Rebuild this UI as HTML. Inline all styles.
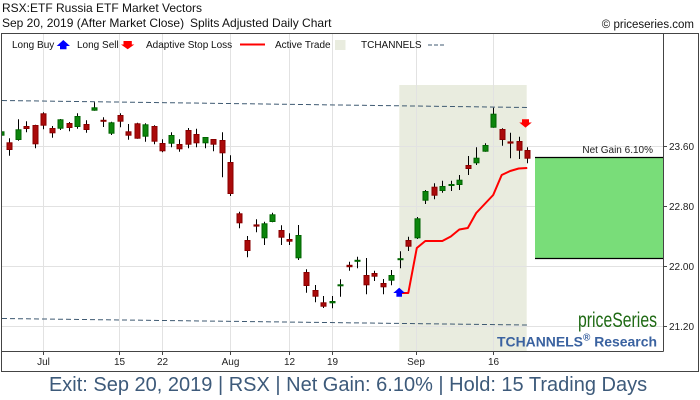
<!DOCTYPE html>
<html>
<head>
<meta charset="utf-8">
<style>
html,body{margin:0;padding:0;background:#fff;}
svg{display:block;}
text{font-family:"Liberation Sans",Arial,sans-serif;}
</style>
</head>
<body>
<svg width="700" height="400" viewBox="0 0 700 400" xmlns="http://www.w3.org/2000/svg">
<rect x="0" y="0" width="700" height="400" fill="#fff"/>

<!-- header -->
<text x="2" y="12" font-size="12" fill="#111">RSX:ETF Russia ETF Market Vectors</text>
<text x="2" y="27" font-size="12" fill="#111">Sep 20, 2019 (After Market Close)</text>
<text x="190" y="27" font-size="12" fill="#111">Splits Adjusted Daily Chart</text>
<text x="694" y="28" font-size="11.5" fill="#111" text-anchor="end">© priceseries.com</text>

<defs>
<clipPath id="plot"><rect x="2" y="34" width="661" height="317"/></clipPath>
</defs>

<!-- active trade shading -->
<rect x="399.3" y="85" width="127.4" height="266" fill="#e9ecdf"/>

<!-- gridlines -->
<g stroke="#e2e2e2" stroke-width="1">
<path d="M2 146.5H663M2 206.5H663M2 266.5H663M2 326.5H663"/>
<path d="M43.5 34V351M119.5 34V351M162.5 34V351M230.5 34V351M289.5 34V351M332.5 34V351M416.5 34V351M493.5 34V351"/>
</g>

<!-- net gain box -->
<rect x="535" y="157.5" width="128" height="101" fill="#79dd79"/>
<path d="M535 157.5H663M535 258.5H663" stroke="#000" stroke-width="1.2"/>
<text x="653" y="153" font-size="10" fill="#222" text-anchor="end">Net Gain 6.10%</text>

<!-- channel lines -->
<g stroke="#3f5a72" stroke-width="1" stroke-dasharray="5,3" fill="none">
<line x1="2" y1="100.5" x2="527" y2="107.5"/>
<line x1="2" y1="318.5" x2="527" y2="325"/>
</g>

<g clip-path="url(#plot)">
<!-- wicks -->
<path stroke="#000" stroke-width="1" fill="none" d="
M1.5 131.3V135.7M9.5 138.3V155.7M18.5 119.3V140.7M26.5 121.3V132.3M35.5 124.7V148.3M43.5 112.3V129.3M52.5 126V137.7M60.5 119V130M69.5 122V131.3M77.5 113.3V128.7
M86.5 120.3V132.7M94.5 102.3V110.7M103.5 117.3V127M111.5 121.7V135M120.5 113.3V127.3M128.5 124V139.7M137.5 122.7V138.7M145.5 123.3V141.7M154.5 125.3V144.3M162.5 139.3V152.3
M171.5 132.3V147.3M179.5 139.3V151.7M188.5 128V148.3M196.5 128.7V147.3M205.5 137V148.3M213.5 139V151.3M222.5 132.3V177.3M230.5 155.3V196M239.5 211.7V228.3M247.5 236V257.3
M256.5 219.3V232.3M264.5 221.7V245M272.5 212.7V222.3M281.5 225.3V245M289.5 233.3V245M298.5 225V260M306.5 269.3V292.7M315.5 285V302.3M323.5 296V308M332.5 296V308.3
M340.5 279.3V296.7M349.5 261.7V270.7M357.5 256.7V268.3M366.5 258V294.3M374.5 270.7V281M383.5 279V294.3M391.5 270V285.3M400.5 251.3V268.3M408.5 236.7V251M417.5 217V239
M425.5 190V204M434.5 183.3V199.3M442.5 180.7V192.7M451.5 180.7V191M459.5 175V190M468.5 156V175M476.5 147.3V165M485.5 143.3V151.7M493.5 107.7V127.7M502.5 128.3V145.7
M510.5 132.7V158.3M519.5 136.7V159M527.5 147.3V163.3"/>

<!-- red bodies -->
<g fill="#aa0a0a" stroke="#8a0000" stroke-width="1">
<rect x="7" y="142.8" width="5" height="6.7"/>
<rect x="24" y="126.5" width="5" height="2"/>
<rect x="33" y="125.5" width="5" height="18.3"/>
<rect x="41" y="113.8" width="5" height="11.4"/>
<rect x="50" y="128.5" width="5" height="4.3"/>
<rect x="67" y="123.5" width="5" height="4"/>
<rect x="84" y="124.5" width="5" height="5"/>
<rect x="101" y="120.3" width="5" height="1"/>
<rect x="118" y="115.5" width="5" height="5.7"/>
<rect x="126" y="131.8" width="5" height="3.4"/>
<rect x="135" y="123.8" width="5" height="14.4"/>
<rect x="152" y="126.5" width="5" height="14.7"/>
<rect x="160" y="143.5" width="5" height="7.3"/>
<rect x="177" y="144.5" width="5" height="4.3"/>
<rect x="186" y="130.5" width="5" height="13.7"/>
<rect x="194" y="134.5" width="5" height="8.3"/>
<rect x="211" y="139.5" width="5" height="4.7"/>
<rect x="220" y="140.5" width="5" height="12.3"/>
<rect x="228" y="162.5" width="5" height="31"/>
<rect x="237" y="213.8" width="5" height="9"/>
<rect x="245" y="240.5" width="5" height="10"/>
<rect x="254" y="224.9" width="5" height="1.2"/>
<rect x="279" y="230.5" width="5" height="6.7"/>
<rect x="287" y="239.5" width="5" height="1.7"/>
<rect x="304" y="272.5" width="5" height="13"/>
<rect x="313" y="290.5" width="5" height="5.7"/>
<rect x="321" y="302.8" width="5" height="3.4"/>
<rect x="347" y="265.3" width="5" height="1.4"/>
<rect x="364" y="275.5" width="5" height="9.3"/>
<rect x="372" y="273.5" width="5" height="2.7"/>
<rect x="381" y="283.5" width="5" height="3.3"/>
<rect x="406" y="240.5" width="5" height="5.7"/>
<rect x="432" y="187.2" width="5" height="8"/>
<rect x="466" y="165.5" width="5" height="3"/>
<rect x="500" y="129.5" width="5" height="10"/>
<rect x="508" y="141.9" width="5" height="1.2"/>
<rect x="517" y="141.5" width="5" height="8.7"/>
<rect x="525" y="150.5" width="5" height="7.7"/>
</g>

<!-- green bodies -->
<g fill="#0c850c" stroke="#006400" stroke-width="1">
<rect x="-1" y="131.8" width="5" height="3.4"/>
<rect x="16" y="129.8" width="5" height="9.7"/>
<rect x="58" y="119.8" width="5" height="8.4"/>
<rect x="75" y="116.5" width="5" height="10"/>
<rect x="92" y="107.8" width="5" height="2.4"/>
<rect x="109" y="122.8" width="5" height="10.4"/>
<rect x="143" y="124.8" width="5" height="11.4"/>
<rect x="169" y="135.5" width="5" height="7.7"/>
<rect x="203" y="137.5" width="5" height="5.3"/>
<rect x="262" y="223.8" width="5" height="14"/>
<rect x="270" y="214.8" width="5" height="6.7"/>
<rect x="296" y="235.5" width="5" height="22.3"/>
<rect x="330" y="301.5" width="5" height="1.3"/>
<rect x="338" y="284.8" width="5" height="1"/>
<rect x="355" y="260.3" width="5" height="1"/>
<rect x="389" y="275.5" width="5" height="4.7"/>
<rect x="398" y="258.7" width="5" height="1"/>
<rect x="415" y="218.8" width="5" height="19"/>
<rect x="423" y="191.5" width="5" height="8.7"/>
<rect x="440" y="186.5" width="5" height="4"/>
<rect x="449" y="184.5" width="5" height="1"/>
<rect x="457" y="180.2" width="5" height="4.3"/>
<rect x="474" y="158.2" width="5" height="4.6"/>
<rect x="483" y="145.5" width="5" height="5.7"/>
<rect x="491" y="114.2" width="5" height="13"/>
</g>
</g>

<!-- adaptive stop loss -->
<polyline fill="none" stroke="#ff0000" stroke-width="2" stroke-linejoin="round" points="400,293 408.3,293 416.8,248 425.3,241 433.8,241 442.3,241 450.8,236.5 459.3,229.5 467.8,228 476.2,213 484.7,204 493.2,195 501.7,175 510.2,171 518.7,168.5 527.2,168"/>

<!-- buy arrow -->
<path d="M399.2 287.7L405 293H402V296.8H396.4V293H393.3Z" fill="#0000ff"/>
<!-- sell arrow -->
<path d="M522 119.3H529V122.5H531.8L525.5 127.6L519.3 122.5H522Z" fill="#ff0000"/>

<!-- axes -->
<g stroke="#444" stroke-width="1" fill="none">
<rect x="1.5" y="33.5" width="697" height="338"/>
<path d="M663.5 33.5V351.5M1.5 351.5H663.5"/>
<path d="M663.5 146.5H667M663.5 206.5H667M663.5 266.5H667M663.5 326.5H667"/>
<path d="M43.5 351.5V355M119.5 351.5V355M162.5 351.5V355M230.5 351.5V355M289.5 351.5V355M332.5 351.5V355M416.5 351.5V355M493.5 351.5V355"/>
</g>

<g font-size="10" fill="#222">
<text x="669" y="150">23.60</text>
<text x="669" y="210">22.80</text>
<text x="669" y="270">22.00</text>
<text x="669" y="330">21.20</text>
</g>
<g font-size="10" fill="#222" text-anchor="middle">
<text x="43.5" y="365">Jul</text>
<text x="119.5" y="365">15</text>
<text x="162.5" y="365">22</text>
<text x="230.5" y="365">Aug</text>
<text x="289.5" y="365">12</text>
<text x="332.5" y="365">19</text>
<text x="416" y="365">Sep</text>
<text x="493.5" y="365">16</text>
</g>

<!-- legend -->
<g font-size="10" fill="#111">
<text x="12" y="48">Long Buy</text>
<text x="77" y="48">Long Sell</text>
<text x="146" y="48">Adaptive Stop Loss</text>
<text x="275" y="48">Active Trade</text>
<text x="361" y="48">TCHANNELS</text>
</g>
<path d="M63.3 40L70 46H66.5V49.3H60V46H56.7Z" fill="#0000ff"/>
<path d="M123.5 41H131.8V44.5H134.3L127.7 49.2L121 44.5H123.5Z" fill="#ff0000"/>
<line x1="240" y1="44.5" x2="265" y2="44.5" stroke="#ff0000" stroke-width="2"/>
<rect x="335" y="40" width="10.5" height="10" fill="#e9ecdf"/>
<line x1="428" y1="45" x2="444" y2="45" stroke="#3f5a72" stroke-width="1" stroke-dasharray="4,2"/>

<!-- logo -->
<text x="578" y="327" font-size="21" fill="#1f6a14" textLength="79" lengthAdjust="spacingAndGlyphs">priceSeries</text>
<text x="497" y="346.5" font-size="14" font-weight="bold" fill="#3a62a0" textLength="160" lengthAdjust="spacingAndGlyphs">TCHANNELS<tspan font-size="10" dy="-6">®</tspan><tspan dy="6"> Research</tspan></text>

<!-- footer -->
<text x="348" y="391" font-size="20" fill="#3d5a7a" text-anchor="middle">Exit: Sep 20, 2019 | RSX | Net Gain: 6.10% | Hold: 15 Trading Days</text>
</svg>
</body>
</html>
